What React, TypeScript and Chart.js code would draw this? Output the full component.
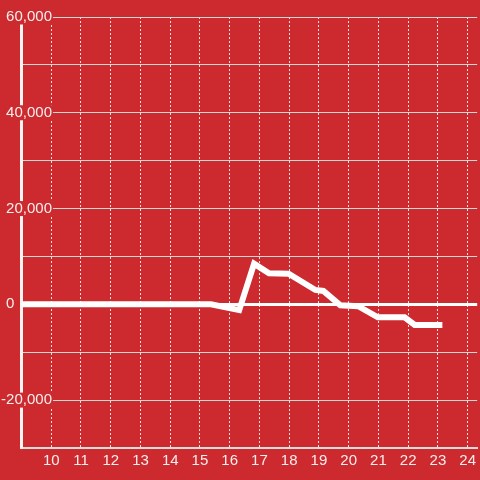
import React, { useEffect, useRef } from 'react';
import { Chart, registerables } from 'chart.js';

Chart.register(...registerables);

// Data (hours of day, net value)
const hours = [9, 15.37, 16.32, 16.82, 17.32, 17.98, 18.88, 19.15, 19.72, 20.32, 20.98, 21.88, 22.22, 23.15];
const values = [0, 0, -1200, 8500, 6500, 6400, 3000, 2800, -200, -400, -2700, -2700, -4300, -4300];

// Axis settings
const yLabeledTicks = [60000, 40000, 20000, 0, -20000];
const xTickLabels = [10, 11, 12, 13, 14, 15, 16, 17, 18, 19, 20, 21, 22, 23, 24];

const RED = '#cc2a2e';
const TEXT = '#f6eeee';

export default function App() {
  const ref = useRef<HTMLCanvasElement>(null);

  useEffect(() => {
    document.body.style.margin = '0';
    const chart = new Chart(ref.current as HTMLCanvasElement, {
      type: 'line',
      data: {
        datasets: [
          {
            data: hours.map((h, i) => ({ x: h, y: values[i] })),
            borderColor: '#ffffff',
            borderWidth: 6,
            pointRadius: 0,
            tension: 0,
            fill: false,
          },
        ],
      },
      options: {
        responsive: false,
        animation: false,
        layout: { padding: { top: 17, left: 0, right: 0, bottom: 6 } },
        plugins: { legend: { display: false }, tooltip: { enabled: false } },
        scales: {
          x: {
            type: 'linear',
            min: 9,
            max: 24.32,
            ticks: {
              stepSize: 1,
              includeBounds: false,
              autoSkip: false,
              maxRotation: 0,
              color: TEXT,
              padding: 4,
              font: { size: 15 },
              callback: (v: any) => (xTickLabels.includes(Number(v)) ? String(v) : ''),
            },
            grid: { color: 'rgba(255,255,255,0.85)', lineWidth: 1, drawTicks: false },
            border: { display: true, color: '#dddddd', width: 2, dash: [2, 2] },
          },
          y: {
            min: -30000,
            max: 60000,
            afterFit: (s: any) => {
              s.width = 21.5;
            },
            ticks: {
              stepSize: 10000,
              autoSkip: false,
              mirror: true,
              crossAlign: 'far',
              padding: -20.4,
              color: TEXT,
              font: { size: 15, lineHeight: 1 },
              showLabelBackdrop: true,
              backdropPadding: { top: 0, bottom: 0, left: 2, right: 1 },
              backdropColor: (c: any) => {
                const v = c.tick ? c.tick.value : null;
                return v !== null && v !== 0 && yLabeledTicks.includes(v) ? RED : 'rgba(0,0,0,0)';
              },
              callback: (v: any) => {
                const n = Number(v);
                if (!yLabeledTicks.includes(n)) return '';
                if (n === 0) return '0' + ' '.repeat(9);
                return n.toLocaleString('en-US');
              },
            },
            grid: {
              color: (c: any) => (c.tick && c.tick.value === 0 ? '#ffffff' : '#d6d6d6'),
              lineWidth: (c: any) => (c.tick && c.tick.value === 0 ? 3 : 1),
              drawTicks: false,
            },
            border: { display: true, color: '#f4f4f4', width: 3 },
          },
        },
      },
    } as any);
    return () => chart.destroy();
  }, []);

  return (
    <div style={{ width: 480, height: 480 }}>
      <canvas ref={ref} width={480} height={480} style={{ display: 'block', background: RED }} />
    </div>
  );
}
